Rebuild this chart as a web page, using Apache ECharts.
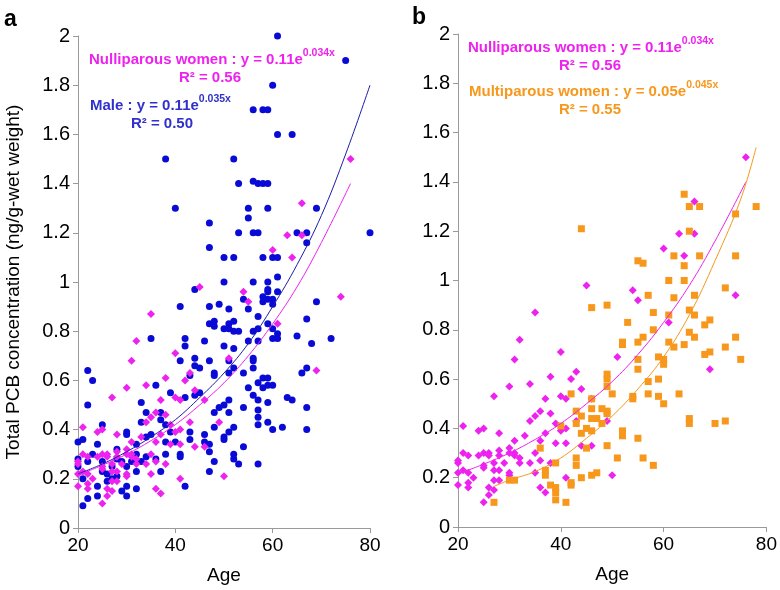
<!DOCTYPE html>
<html>
<head>
<meta charset="utf-8">
<script src="https://cdn.jsdelivr.net/npm/echarts@6/dist/echarts.min.js"></script>
<style>
html,body{margin:0;padding:0;background:#fff;}
#c{width:780px;height:590px;}
</style>
</head>
<body>
<div id="c"></div>
<script>
// ---- DATA (age, total PCB ng/g-wet weight) ----
var maleData = [
[61,2.00],[75,1.90],[60,1.80],[56,1.70],[58,1.70],[59,1.70],[61,1.60],[64,1.60],[38,1.50],[52,1.50],
[53,1.40],[56,1.41],[57,1.40],[58,1.40],[59,1.40],
[40,1.30],[55,1.30],[59,1.30],[69,1.30],
[47,1.24],[55,1.26],
[53,1.20],[56,1.20],[57,1.20],[65,1.20],[67,1.20],[80,1.20],
[67,1.16],[47,1.14],
[50,1.10],[52,1.10],[58,1.10],[60,1.10],[61,1.10],
[61,1.02],[50,1.00],[56,1.00],[59,1.00],
[59,0.97],[59,0.96],[61,0.96],[44,0.97],
[41,0.90],[47,0.90],[49,0.91],
[54,0.93],[59,0.93],[60,0.93],[60,0.91],[58,0.94],[58,0.92],[55,0.89],[51,0.89],
[57,0.86],
[47,0.83],[48,0.84],[48,0.82],[51,0.83],[52,0.84],[59,0.83],
[50,0.81],[51,0.81],[52,0.80],[53,0.80],[56,0.80],[57,0.81],[60,0.81],
[61,0.79],[61,0.77],[60,0.77],
[55,0.76],[57,0.76],[65,0.78],[67,0.85],[69,0.92],[68,0.75],[72,0.77],
[35,0.77],[42,0.77],[42,0.74],[46,0.76],[50,0.74],[52,0.73],
[41,0.68],[47,0.68],[44,0.69],[44,0.66],[45,0.65],[51,0.68],[56,0.69],[56,0.68],[56,0.65],[52,0.65],[48,0.63],
[22,0.64],[67,0.65],[66,0.63],
[23,0.60],[22,0.50],[20,0.35],[21,0.36],[20,0.28],[20,0.25],[21,0.20],[21,0.09],
[22,0.27],[22,0.12],[23,0.30],[24,0.34],[24,0.17],[24,0.13],
[25,0.42],[25,0.27],[25,0.23],[26,0.22],[26,0.19],[27,0.25],[27,0.20],
[28,0.32],[28,0.28],[28,0.21],[29,0.27],[29,0.15],
[30,0.39],[30,0.38],[30,0.25],[30,0.17],[30,0.13],[31,0.27],
[32,0.34],[32,0.30],[32,0.23],[32,0.16],
[33,0.43],[33,0.51],[33,0.27],
[34,0.47],[34,0.37],[34,0.29],[35,0.38],
[36,0.58],[36,0.28],[37,0.47],[37,0.44],[37,0.23],
[38,0.42],[38,0.35],[38,0.30],[39,0.55],[39,0.39],[40,0.35],
[41,0.30],[41,0.29],[42,0.53],[42,0.17],
[43,0.62],[43,0.39],[43,0.36],
[44,0.54],[45,0.55],
[46,0.38],[46,0.35],[47,0.34],[47,0.31],[47,0.23],
[48,0.62],[48,0.47],[48,0.41],[48,0.27],[49,0.49],[50,0.50],[50,0.37],[50,0.36],
[51,0.63],[51,0.52],[51,0.47],[51,0.39],
[52,0.41],[52,0.30],[52,0.28],[53,0.26],
[54,0.63],[54,0.49],[54,0.33],[55,0.57],
[56,0.54],[57,0.59],[57,0.52],[57,0.48],[57,0.45],[57,0.42],[57,0.26],
[58,0.61],[58,0.57],[59,0.61],[59,0.58],[59,0.51],[59,0.43],[60,0.58],[60,0.40],
[62,0.41],[63,0.53],[64,0.52],
[67,0.49],[67,0.40]
];
var nulliData = [
[20,0.26],[20,0.27],[20,0.17],[20,0.22],
[21,0.41],[21,0.30],[21,0.23],
[22,0.29],[22,0.22],[22,0.18],[22,0.16],
[23,0.20],
[24,0.39],[24,0.29],
[25,0.40],[25,0.30],[25,0.25],[25,0.24],[25,0.10],
[26,0.30],[26,0.29],[26,0.16],[26,0.13],
[27,0.53],[27,0.26],[27,0.23],[27,0.19],[27,0.15],
[28,0.38],[28,0.31],[28,0.29],[28,0.23],[28,0.19],
[29,0.26],
[30,0.57],[30,0.32],[30,0.30],[30,0.22],[30,0.21],
[31,0.68],[31,0.35],[31,0.30],[31,0.29],
[32,0.76],[32,0.28],[32,0.26],
[33,0.37],
[34,0.58],[34,0.43],[34,0.26],
[35,0.87],[35,0.45],[35,0.30],[35,0.22],
[36,0.47],[36,0.35],[36,0.27],[36,0.16],
[37,0.52],[37,0.38],[37,0.14],
[38,0.61],[38,0.46],[38,0.26],
[39,0.42],[39,0.34],
[40,0.71],[40,0.53],[40,0.39],
[41,0.52],[41,0.40],[41,0.34],[41,0.20],
[42,0.60],
[43,0.63],[43,0.43],
[44,0.56],[44,0.33],
[45,0.98],
[46,0.52],[46,0.33],
[49,0.43],
[50,0.21],
[51,0.69],
[54,0.96],[55,0.92],
[60,1.13],[61,0.83],[63,1.19],[64,1.10],[66,1.32],[66,1.19],
[69,0.64],[74,0.94],[76,1.50]
];
var multiData = [
[27,0.10],[30,0.19],[31,0.19],[36,0.32],[37,0.23],[37,0.21],[38,0.17],[39,0.26],[39,0.16],[39,0.14],[39,0.11],[40,0.41],[41,0.10],
[42,0.54],[42,0.18],[42,0.17],
[43,0.47],[43,0.42],[43,0.28],[43,0.25],
[44,1.21],[44,0.45],[44,0.38],[44,0.20],
[45,0.40],[45,0.32],
[46,0.89],[46,0.52],[46,0.48],[46,0.44],[46,0.39],[46,0.21],
[47,0.44],[47,0.22],
[48,0.48],[48,0.42],
[49,0.90],[49,0.62],[49,0.60],[49,0.57],[49,0.47],[49,0.46],[49,0.33],
[50,0.54],
[51,0.28],
[52,0.75],[52,0.74],[52,0.39],[52,0.37],
[53,0.83],
[54,0.53],[54,0.52],
[55,1.08],[55,0.75],[55,0.68],[55,0.64],[55,0.36],
[56,1.07],[56,0.77],[56,0.28],
[57,0.94],[57,0.59],[57,0.54],
[58,0.87],[58,0.80],[58,0.25],
[59,0.69],[59,0.60],[59,0.53],
[60,0.68],[60,0.66],[60,0.50],
[61,1.00],[61,0.86],[61,0.75],
[62,1.10],[62,0.93],[62,0.73],
[63,0.54],
[64,1.35],[64,1.06],[64,1.00],[64,0.74],
[65,1.30],[65,1.20],[65,0.88],[65,0.79],[65,0.44],[65,0.42],
[66,0.94],[66,0.86],[66,0.77],
[67,1.30],[67,1.10],
[68,0.82],[68,0.70],
[69,0.84],[69,0.71],
[70,0.42],
[72,0.97],[72,0.73],[72,0.43],
[74,1.27],[74,1.10],[74,0.77],
[75,0.68],
[78,1.30]
];
// trend curves
var maleFit = [[20,0.22],[25,0.26],[30,0.31],[35,0.37],[40,0.44],[45,0.53],[50,0.63],[55,0.75],[60,0.90],[65,1.07],[70,1.27],[75,1.52],[80,1.80]];
var nulliFit = [[20,0.215],[25,0.255],[30,0.30],[35,0.355],[40,0.42],[45,0.50],[50,0.59],[55,0.70],[60,0.83],[65,0.98],[70,1.16],[76,1.40]];
var multiFit = [[27,0.165],[30,0.19],[35,0.225],[40,0.28],[45,0.36],[50,0.45],[55,0.56],[60,0.69],[65,0.86],[70,1.08],[75,1.33],[78,1.54]];
var xTicks = [20, 40, 60, 80];
var yTicks = [0, 0.2, 0.4, 0.6, 0.8, 1, 1.2, 1.4, 1.6, 1.8, 2];

var BLUE = '#0a0ad6', MAG = '#ee22ee', ORG = '#f7981d';
var FONT = 'Liberation Sans, Arial, Helvetica, sans-serif';

function xAx(gi) {
  return {
    gridIndex: gi, type: 'value', min: 20, max: 80, interval: 20,
    axisLine: {lineStyle: {color: '#9a9a9a', width: 1}},
    axisTick: {show: true, length: 5, lineStyle: {color: '#9a9a9a'}},
    axisLabel: {color: '#000', fontSize: 19, fontFamily: FONT, margin: 8,
      formatter: function (v) { return xTicks.indexOf(v) >= 0 ? String(v) : ''; }},
    splitLine: {show: false},
    name: 'Age', nameLocation: 'middle', nameGap: 38,
    nameTextStyle: {color: '#000', fontSize: 19, fontFamily: FONT}
  };
}
function yAx(gi, withName) {
  var o = {
    gridIndex: gi, type: 'value', min: 0, max: 2, interval: 0.2,
    axisLine: {show: true, lineStyle: {color: '#9a9a9a', width: 1}},
    axisTick: {show: true, length: 5, lineStyle: {color: '#9a9a9a'}},
    axisLabel: {color: '#000', fontSize: 20, fontFamily: FONT, margin: 8,
      formatter: function (v) { var r = Math.round(v * 10) / 10; return yTicks.indexOf(r) >= 0 ? String(r) : ''; }},
    splitLine: {show: false}
  };
  if (withName) {
    o.name = 'Total PCB concentration (ng/g-wet weight)';
    o.nameLocation = 'middle';
    o.nameGap = 55;
    o.nameTextStyle = {color: '#000', fontSize: 19, fontFamily: FONT};
  }
  return o;
}

function eqText(x, y, main, sup, color) {
  return {
    type: 'text', x: x, y: y, z: 100,
    style: {
      text: '{m|' + main + '}{s|' + sup + '}',
      rich: {
        m: {fontSize: 15, fontWeight: 'bold', fontFamily: FONT, fill: color, lineHeight: 19, verticalAlign: 'bottom'},
        s: {fontSize: 10.5, fontWeight: 'bold', fontFamily: FONT, fill: color, lineHeight: 19, verticalAlign: 'top', padding: [0, 0, 6, 0]}
      }
    }
  };
}
function plainText(x, y, t, color, size, align) {
  return {
    type: 'text', x: x, y: y, z: 100,
    style: {text: t, fill: color, fontSize: size || 15, fontWeight: 'bold', fontFamily: FONT, align: align || 'center'}
  };
}

var chart = echarts.init(document.getElementById('c'), null, {renderer: 'canvas'});
chart.setOption({
  animation: false,
  backgroundColor: '#fff',
  grid: [
    {left: 78, top: 36, width: 292, height: 500},
    {left: 458, top: 34, width: 310, height: 493}
  ],
  xAxis: [xAx(0), xAx(1)],
  yAxis: [yAx(0, true), yAx(1, false)],
  series: [
    {type: 'scatter', xAxisIndex: 0, yAxisIndex: 0, data: maleData, symbol: 'circle', symbolSize: 7, itemStyle: {color: BLUE, opacity: 1}},
    {type: 'scatter', xAxisIndex: 0, yAxisIndex: 0, data: nulliData, symbol: 'diamond', symbolSize: 8, itemStyle: {color: MAG, opacity: 1}},
    {type: 'line', xAxisIndex: 0, yAxisIndex: 0, data: maleFit, smooth: 0.4, symbol: 'none', lineStyle: {color: '#1c1ca8', width: 1}, z: 5},
    {type: 'line', xAxisIndex: 0, yAxisIndex: 0, data: nulliFit, smooth: 0.4, symbol: 'none', lineStyle: {color: MAG, width: 1}, z: 5},
    {type: 'scatter', xAxisIndex: 1, yAxisIndex: 1, data: nulliData, symbol: 'diamond', symbolSize: 8, itemStyle: {color: MAG, opacity: 1}},
    {type: 'scatter', xAxisIndex: 1, yAxisIndex: 1, data: multiData, symbol: 'rect', symbolSize: 7, itemStyle: {color: ORG, opacity: 1}},
    {type: 'line', xAxisIndex: 1, yAxisIndex: 1, data: nulliFit, smooth: 0.4, symbol: 'none', lineStyle: {color: MAG, width: 1}, z: 5},
    {type: 'line', xAxisIndex: 1, yAxisIndex: 1, data: multiFit, smooth: 0.4, symbol: 'none', lineStyle: {color: ORG, width: 1}, z: 5}
  ],
  graphic: [
    plainText(4, 8, 'a', '#000', 23, 'left'),
    plainText(412, 6, 'b', '#000', 23, 'left'),
    eqText(89, 48, 'Nulliparous women : y = 0.11e', '0.034x', MAG),
    plainText(210, 70, 'R² = 0.56', MAG),
    eqText(90, 94, 'Male : y = 0.11e', '0.035x', '#3030cc'),
    plainText(162, 116, 'R² = 0.50', '#3030cc'),
    eqText(468, 36, 'Nulliparous women : y = 0.11e', '0.034x', MAG),
    plainText(590, 58, 'R² = 0.56', MAG),
    eqText(469, 80, 'Multiparous women : y = 0.05e', '0.045x', ORG),
    plainText(590, 102, 'R² = 0.55', ORG)
  ]
});
</script>
</body>
</html>
